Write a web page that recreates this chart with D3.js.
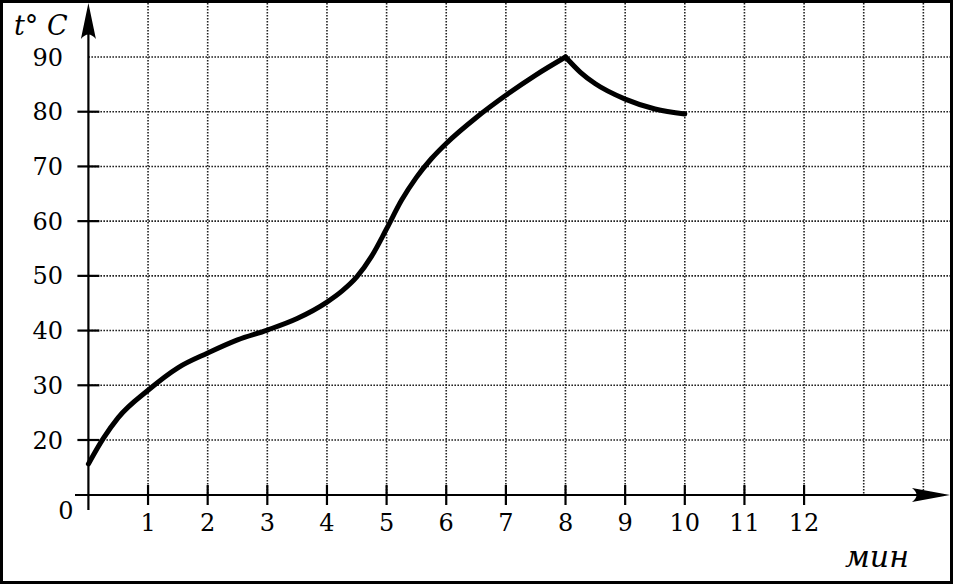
<!DOCTYPE html>
<html><head><meta charset="utf-8">
<script src="https://cdn.jsdelivr.net/npm/d3@7"></script>
<style>body{margin:0;background:#fff}svg{display:block}</style>
</head><body><svg id="c" width="953" height="584"></svg>
<script>
// time, minutes (rising part, up to the peak)
const riseT = [0, 0.25, 0.5, 1, 1.5, 2, 2.5, 3, 3.5, 4, 4.25, 4.5, 4.75, 5, 5.25, 5.5, 5.75, 6, 6.5, 7, 7.5, 8];
const riseV = [11.3, 20.3, 24.1, 29.1, 33.2, 35.9, 38.3, 40.1, 42.2, 45.2, 47.2, 49.8, 53.6, 58.6, 63.8, 68.0, 71.4, 74.2, 78.9, 83.0, 86.7, 90];
// cooling part after the peak
const fallT = [8, 8.25, 8.5, 9, 9.5, 10];
const fallV = [90, 87.2, 85.1, 82.3, 80.5, 79.6];
const xTickLabels = [1,2,3,4,5,6,7,8,9,10,11,12];
const xGridValues = [1,2,3,4,5,6,7,8,9,10,11,12,13,14];
const yTickLabels = [20,30,40,50,60,70,80,90];
const yTickMarks = [20,30,40,50,60,70,80];
const yLabel = "t° C";
const xLabel = "мин";

const W = 953, H = 584;
const svg = d3.select("#c");
const x = d3.scaleLinear().domain([0, 14]).range([88.4, 88.4 + 14 * 59.64]);
const y = d3.scaleLinear().domain([0, 20, 90]).range([495, 440, 57]);
const font = "'DejaVu Serif', serif";

svg.append("rect").attr("width", W).attr("height", H).attr("fill", "#fff");

// grid
const grid = svg.append("g").attr("stroke", "#222").attr("stroke-width", 1.6).attr("stroke-dasharray", "1.6,1.4");
grid.selectAll("line.v").data(xGridValues).join("line").attr("class","v")
  .attr("x1", d => x(d)).attr("x2", d => x(d)).attr("y1", 3).attr("y2", y(0));
grid.selectAll("line.h").data(yTickLabels).join("line").attr("class","h")
  .attr("x1", x(0)).attr("x2", W - 3).attr("y1", d => y(d)).attr("y2", d => y(d));

// axes lines
const ax = svg.append("g").attr("stroke", "#000").attr("stroke-width", 2.2);
ax.append("line").attr("x1", x(0)).attr("x2", x(0)).attr("y1", 20).attr("y2", 510);
ax.append("line").attr("x1", 75).attr("x2", 930).attr("y1", y(0)).attr("y2", y(0));
ax.selectAll("line.yt").data(yTickMarks).join("line").attr("class","yt")
  .attr("x1", x(0) - 11).attr("x2", x(0) + 11).attr("y1", d => y(d)).attr("y2", d => y(d));
ax.selectAll("line.xt").data(xTickLabels).join("line").attr("class","xt")
  .attr("x1", d => x(d)).attr("x2", d => x(d)).attr("y1", y(0) - 10).attr("y2", y(0) + 10);

// arrowheads
const ox = x(0), oy = y(0);
svg.append("path").attr("fill", "#000")
  .attr("d", `M${ox},3 L${ox+7.5},39 Q${ox},30 ${ox-7.5},39 Z`);
svg.append("path").attr("fill", "#000")
  .attr("d", `M950,${oy} L912,${oy-7} Q921,${oy} 912,${oy+7} Z`);

// tick labels
svg.append("g").selectAll("text").data(yTickLabels).join("text")
  .attr("x", 63).attr("y", d => y(d)).attr("dy", "0.36em").attr("text-anchor", "end")
  .attr("font-family", font).attr("font-size", 24).text(d => d);
svg.append("g").selectAll("text").data(xTickLabels).join("text")
  .attr("x", d => x(d)).attr("y", 522).attr("dy", "0.36em").attr("text-anchor", "middle")
  .attr("font-family", font).attr("font-size", 24).text(d => d);
svg.append("text").attr("x", 66).attr("y", 510).attr("dy", "0.36em").attr("text-anchor", "middle")
  .attr("font-family", font).attr("font-size", 24).text("0");

// axis titles
svg.append("text").attr("x", 14).attr("y", 35).attr("font-family", font).attr("font-style", "italic")
  .attr("font-size", 27).text(yLabel);
svg.append("text").attr("x", 845).attr("y", 567).attr("font-family", font).attr("font-style", "italic")
  .attr("font-size", 30).text(xLabel);

// curve
const line = d3.line().x(d => x(d[0])).y(d => y(d[1])).curve(d3.curveMonotoneX);
const cv = svg.append("g").attr("fill", "none").attr("stroke", "#000").attr("stroke-width", 5)
  .attr("stroke-linecap", "round").attr("stroke-linejoin", "round");
cv.append("path").attr("d", line(riseT.map((t, i) => [t, riseV[i]])));
cv.append("path").attr("d", line(fallT.map((t, i) => [t, fallV[i]])));

// frame
svg.append("rect").attr("x", 1.5).attr("y", 1.5).attr("width", W - 3).attr("height", H - 3)
  .attr("fill", "none").attr("stroke", "#000").attr("stroke-width", 3);
</script></body></html>
